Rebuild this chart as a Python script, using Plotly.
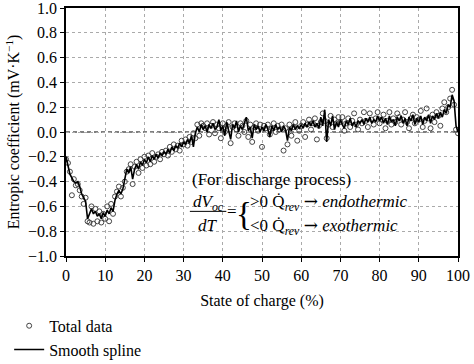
import plotly.graph_objects as go

soc = [i * 0.5 for i in range(201)]

spline_vals = [
    -0.20, -0.27, -0.34, -0.37, -0.40, -0.41, -0.40, -0.44, -0.50, -0.53,
    -0.56, -0.70, -0.66, -0.62, -0.66, -0.64, -0.68, -0.66, -0.70, -0.65,
    -0.68, -0.63, -0.66, -0.61, -0.64, -0.55, -0.50, -0.47, -0.50, -0.46,
    -0.38, -0.30, -0.33, -0.28, -0.38, -0.30, -0.26, -0.30, -0.24, -0.27,
    -0.22, -0.25, -0.20, -0.24, -0.19, -0.22, -0.18, -0.21, -0.17, -0.19,
    -0.16, -0.18, -0.14, -0.17, -0.12, -0.15, -0.11, -0.13, -0.09, -0.12,
    -0.08, -0.10, -0.06, -0.09, -0.03, -0.12, -0.01, 0.04, 0.00, 0.06,
    0.02, 0.05, 0.00, 0.06, 0.03, 0.07, 0.02, 0.04, 0.10, 0.01,
    0.05, -0.03, 0.08, 0.02, -0.06, 0.06, 0.03, 0.09, 0.00, 0.05,
    0.02, 0.07, 0.12, 0.01, 0.04, -0.05, 0.06, 0.02, 0.05, 0.00,
    0.04, 0.01, 0.06, 0.02, -0.04, 0.05, 0.01, 0.06, 0.02, 0.04,
    0.00, 0.05, 0.02, -0.07, 0.04, 0.01, 0.06, 0.02, 0.05, 0.03,
    0.06, 0.03, 0.07, 0.04, 0.08, 0.05, 0.09, 0.04, 0.07, 0.03,
    0.12, 0.05, 0.18, -0.08, 0.10, 0.05, 0.13, 0.02, 0.08, 0.04,
    0.10, 0.06, 0.03, 0.09, 0.06, 0.11, 0.05, 0.08, 0.04, 0.09,
    0.07, 0.10, 0.06, 0.11, 0.08, 0.12, 0.07, 0.10, 0.08, 0.13,
    0.09, 0.12, 0.07, 0.11, 0.06, 0.13, 0.08, 0.10, 0.05, 0.12,
    0.09, 0.13, 0.07, 0.11, 0.05, 0.12, 0.09, 0.14, 0.06, 0.11,
    0.08, 0.13, 0.06, 0.12, 0.09, 0.14, 0.07, 0.13, 0.10, 0.15,
    0.11, 0.16, 0.12, 0.18, 0.15, 0.22, 0.20, 0.30, 0.25, 0.05,
    0.00,
]

data_vals = [
    -0.22, -0.25, -0.32, -0.51, -0.38, -0.43, -0.42, -0.47, -0.52, -0.58,
    -0.53, -0.72, -0.73, -0.60, -0.74, -0.62, -0.72, -0.64, -0.73, -0.66,
    -0.70, -0.60, -0.72, -0.58, -0.66, -0.52, -0.48, -0.44, -0.52, -0.45,
    -0.40, -0.32, -0.30, -0.26, -0.42, -0.28, -0.24, -0.33, -0.22, -0.29,
    -0.20, -0.27, -0.19, -0.26, -0.17, -0.24, -0.20, -0.18, -0.22, -0.16,
    -0.18, -0.15, -0.19, -0.12, -0.16, -0.10, -0.14, -0.11, -0.15, -0.07,
    -0.10, -0.06, -0.11, -0.04, -0.08, -0.01, -0.05, 0.06, -0.03, 0.07,
    0.05, 0.03, 0.07, -0.02, 0.05, 0.08, -0.01, 0.06, 0.03, -0.05,
    0.07, 0.00, 0.05, 0.08, -0.09, 0.04, 0.07, 0.02, -0.03, 0.07,
    0.05, 0.00, 0.09, -0.04, 0.06, -0.08, 0.04, 0.07, 0.01, 0.06,
    -0.12, 0.05, 0.03, 0.06, -0.02, 0.03, 0.07, 0.00, 0.05, 0.02,
    0.06, -0.15, 0.03, -0.10, 0.06, -0.03, 0.04, 0.08, -0.07, 0.01,
    0.05, 0.08, -0.04, 0.06, 0.10, 0.02, 0.07, 0.11, -0.06, 0.05,
    0.08, 0.15, 0.09, -0.05, 0.06, 0.13, 0.04, 0.10, 0.07, 0.12,
    0.08, 0.12, 0.01, 0.07, 0.11, 0.04, 0.09, 0.15, 0.06, 0.02,
    0.10, 0.07, 0.16, 0.09, 0.04, 0.15, 0.10, 0.06, 0.11, 0.16,
    0.07, 0.10, 0.14, 0.03, 0.09, 0.16, 0.06, 0.11, 0.08, 0.15,
    0.12, 0.06, 0.10, 0.16, 0.08, 0.03, 0.11, 0.14, 0.07, 0.12,
    0.10, 0.17, 0.04, 0.09, 0.19, 0.11, 0.03, 0.14, 0.08, 0.16,
    0.13, 0.05, 0.19, 0.24, 0.16, 0.20, 0.27, 0.34, 0.22, 0.02,
    -0.01,
]

x_ticks = [0, 10, 20, 30, 40, 50, 60, 70, 80, 90, 100]
y_ticks = [-1.0, -0.8, -0.6, -0.4, -0.2, 0.0, 0.2, 0.4, 0.6, 0.8, 1.0]
y_tick_labels = ["\u22121.0", "\u22120.8", "\u22120.6", "\u22120.4", "\u22120.2",
                 "0.0", "0.2", "0.4", "0.6", "0.8", "1.0"]

FONT = "Liberation Serif, Times New Roman, DejaVu Serif, serif"
ARROW = " <span style=\"font-family:'DejaVu Serif'\">\u2192</span> "

fig = go.Figure()
fig.add_trace(go.Scatter(
    x=soc, y=data_vals, mode="markers", name="Total data",
    marker=dict(symbol="circle-open", size=5, color="#444444", line=dict(width=1)),
))
fig.add_trace(go.Scatter(
    x=soc, y=spline_vals, mode="lines", name="Smooth spline",
    line=dict(color="black", width=1.6),
))

fig.add_shape(type="line", xref="x", yref="y", x0=0, x1=100, y0=0, y1=0,
              line=dict(color="black", width=1.2, dash="4px,3px"), layer="below")

# Fraction bar of dV_oc/dT
fig.add_shape(type="line", xref="x", yref="y", x0=31.6, x1=40.9, y0=-0.64, y1=-0.64,
              line=dict(color="black", width=1))

ann_font = dict(family=FONT, size=17, color="black")
fig.add_annotation(x=52.3, y=-0.38, xref="x", yref="y", showarrow=False,
                   text="(For discharge process)", font=ann_font)
fig.add_annotation(x=36.3, y=-0.57, xref="x", yref="y", showarrow=False,
                   text="<i>dV</i><sub><i>oc</i></sub>", font=ann_font)
fig.add_annotation(x=36.3, y=-0.755, xref="x", yref="y", showarrow=False,
                   text="<i>dT</i>", font=ann_font)
fig.add_annotation(x=42.4, y=-0.645, xref="x", yref="y", showarrow=False,
                   text="=", font=ann_font)
fig.add_annotation(x=45.3, y=-0.665, xref="x", yref="y", showarrow=False,
                   text="{", font=dict(family=FONT, size=33, color="black"))
fig.add_annotation(x=46.4, y=-0.57, xref="x", yref="y", showarrow=False, xanchor="left",
                   text="&gt;0 Q\u0307<sub><i>rev</i></sub>" + ARROW + "<i>endothermic</i>",
                   font=ann_font)
fig.add_annotation(x=46.4, y=-0.76, xref="x", yref="y", showarrow=False, xanchor="left",
                   text="&lt;0 Q\u0307<sub><i>rev</i></sub>" + ARROW + "<i>exothermic</i>",
                   font=ann_font)

axis_common = dict(
    showline=True, linecolor="black", linewidth=1.5, mirror=True,
    ticks="outside", ticklen=4, tickcolor="black", tickwidth=1,
    showgrid=True, gridcolor="#aaaaaa", griddash="dot", gridwidth=1,
    zeroline=False, tickfont=dict(family=FONT, size=16, color="black"),
    ticklabeloverflow="allow",
)

fig.update_layout(
    width=474, height=364,
    margin=dict(l=66, r=16, t=8, b=108, autoexpand=False),
    plot_bgcolor="white", paper_bgcolor="white",
    font=dict(family=FONT, size=14, color="black"),
    xaxis=dict(range=[0, 100], tickvals=x_ticks,
               title=dict(text="State of charge (%)", font=dict(family=FONT, size=16), standoff=12),
               **axis_common),
    yaxis=dict(range=[-1.0, 1.0], tickvals=y_ticks, ticktext=y_tick_labels,
               title=dict(text="Entropic coefficient (mV\u00b7K<sup>\u22121</sup>)",
                          font=dict(family=FONT, size=16), standoff=4),
               **axis_common),
    showlegend=True,
    legend=dict(x=-0.145, y=-0.213, xanchor="left", yanchor="top",
                bgcolor="rgba(0,0,0,0)", font=dict(family=FONT, size=16),
                tracegroupgap=0, itemwidth=30),
)

fig.write_html("out.html", config={"displayModeBar": False},
               post_script="document.body.style.margin='0';document.body.style.padding='0';")
